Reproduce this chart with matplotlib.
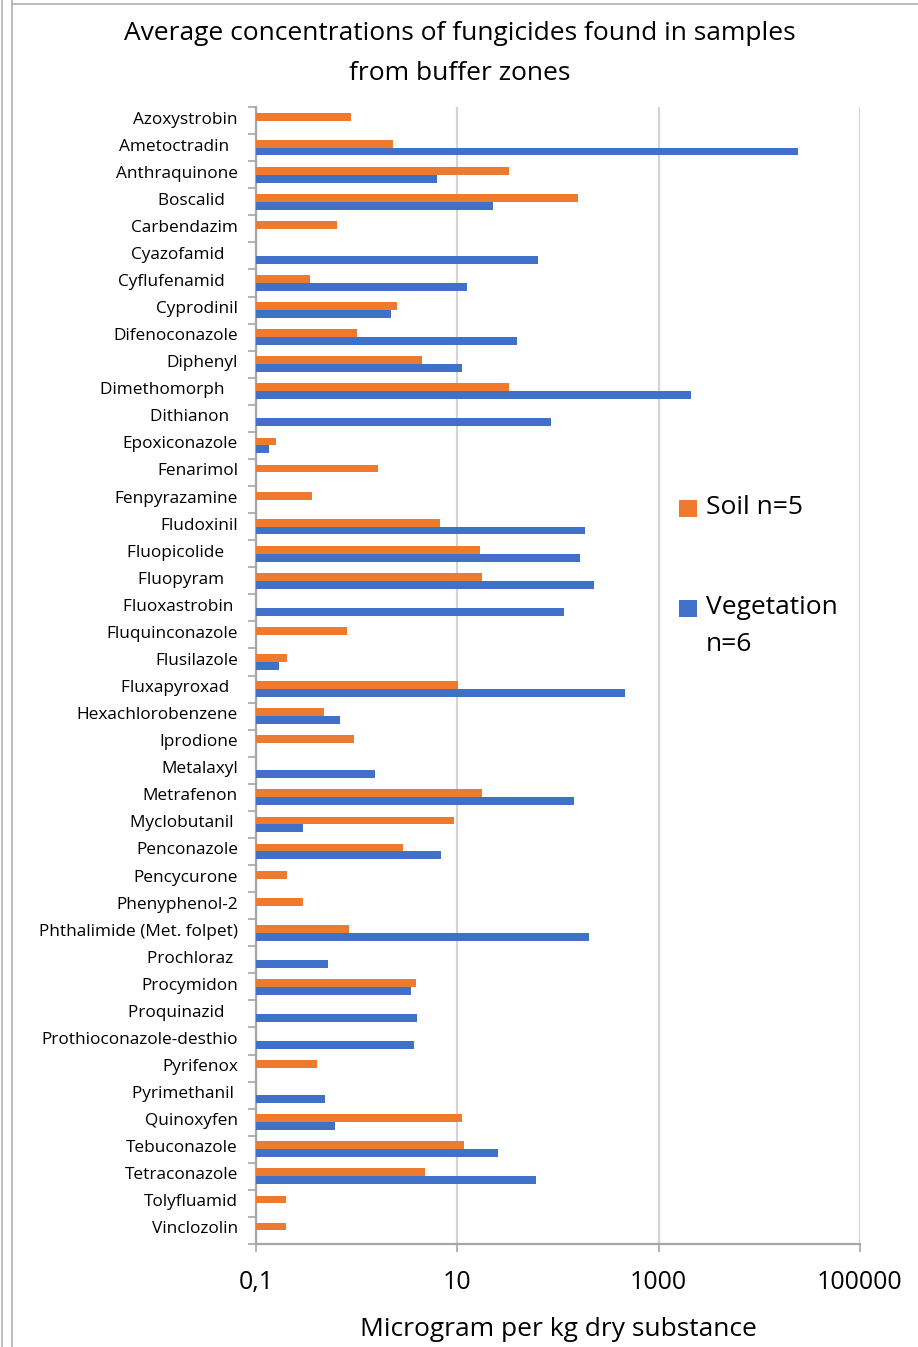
import numpy as np
import matplotlib
matplotlib.use("Agg")
import matplotlib.pyplot as plt
from matplotlib.lines import Line2D
from matplotlib.patches import Rectangle
from matplotlib.transforms import ScaledTranslation

# Fungicide names (trailing spaces kept as in the source labels)
compounds = [
    "Azoxystrobin", "Ametoctradin  ", "Anthraquinone", "Boscalid   ", "Carbendazim",
    "Cyazofamid   ", "Cyflufenamid   ", "Cyprodinil", "Difenoconazole", "Diphenyl",
    "Dimethomorph   ", "Dithianon  ", "Epoxiconazole", "Fenarimol", "Fenpyrazamine",
    "Fludoxinil", "Fluopicolide   ", "Fluopyram   ", "Fluoxastrobin ", "Fluquinconazole",
    "Flusilazole", "Fluxapyroxad  ", "Hexachlorobenzene", "Iprodione", "Metalaxyl",
    "Metrafenon", "Myclobutanil ", "Penconazole", "Pencycurone", "Phenyphenol-2",
    "Phthalimide (Met. folpet)", "Prochloraz ", "Procymidon", "Proquinazid   ",
    "Prothioconazole-desthio", "Pyrifenox", "Pyrimethanil ", "Quinoxyfen", "Tebuconazole",
    "Tetraconazole", "Tolyfluamid", "Vinclozolin",
]

# Average concentrations, microgram per kg dry substance (nan = not found)
nan = np.nan
soil = [
    0.87, 2.28, 32.5, 157, 0.64,
    nan, 0.34, 2.5, 1.0, 4.5,
    32.5, nan, 0.158, 1.63, 0.36,
    6.7, 16.8, 17.6, nan, 0.80,
    0.203, 10.2, 0.47, 0.94, nan,
    17.6, 9.3, 2.9, 0.203, 0.29,
    0.84, nan, 3.9, nan,
    nan, 0.40, nan, 11.1, 11.6,
    4.8, 0.2, 0.2,
]
vegetation = [
    nan, 24300, 6.27, 22.5, nan,
    63, 12.5, 2.18, 39, 11.1,
    2100, 85, 0.135, nan, nan,
    185, 165, 228, 115, nan,
    0.169, 463, 0.68, nan, 1.52,
    144, 0.29, 6.9, nan, nan,
    203, 0.52, 3.47, 3.97,
    3.7, nan, 0.48, 0.61, 25.4,
    60, nan, nan,
]

x_ticks = [0.1, 10, 1000, 100000]
x_tick_labels = ["0,1", "10", "1000", "100000"]

ORANGE = "#EE7A30"
BLUE = "#4170C8"
XMIN, XMAX = 0.1, 100000

plt.rcParams["font.family"] = ["Open Sans", "DejaVu Sans"]

W, H = 918, 1347
fig = plt.figure(figsize=(W / 100, H / 100), dpi=100)

ax = fig.add_axes([256 / W, 1 - 1244 / H, (860 - 256) / W, (1244 - 107) / H])

n = len(compounds)
y = np.arange(n)
soil = np.array(soil, dtype=float)
vegetation = np.array(vegetation, dtype=float)
bh = 0.29

ms = ~np.isnan(soil)
mv = ~np.isnan(vegetation)
ax.barh(y[ms] - bh / 2, soil[ms] - XMIN, left=XMIN, height=bh, color=ORANGE, zorder=3)
ax.barh(y[mv] + bh / 2, vegetation[mv] - XMIN, left=XMIN, height=bh, color=BLUE, zorder=3)

ax.set_xscale("log")
ax.set_xlim(XMIN, XMAX)
ax.set_ylim(n - 0.5, -0.5)

ax.set_xticks(x_ticks)
ax.set_xticklabels(x_tick_labels)
ax.xaxis.set_minor_locator(matplotlib.ticker.NullLocator())
ax.tick_params(axis="x", which="major", length=6, width=1.2, color="#A6A6A6",
               pad=13, labelsize=18)
ax.grid(axis="x", which="major", color="#D4D4D4", linewidth=1.6, zorder=0)

ax.set_yticks(y)
ax.set_yticklabels(compounds)
ax.set_yticks(np.arange(n + 1) - 0.5, minor=True)
ax.tick_params(axis="y", which="major", length=0, pad=13, labelsize=12.4)
ax.tick_params(axis="y", which="minor", length=6, width=1.2, color="#A6A6A6")
lift = ScaledTranslation(0, 3 / 100, fig.dpi_scale_trans)
for lab in ax.get_yticklabels():
    lab.set_transform(lab.get_transform() + lift)

for side in ("top", "right"):
    ax.spines[side].set_visible(False)
for side in ("left", "bottom"):
    ax.spines[side].set_color("#A6A6A6")
    ax.spines[side].set_linewidth(1.6)

# Title and axis label
fig.text(460 / W, 1 - 34 / H, "Average concentrations of fungicides found in samples",
         ha="center", va="center", fontsize=19)
fig.text(460 / W, 1 - 73 / H, "from buffer zones", ha="center", va="center", fontsize=19)
fig.text(558 / W, 1 - 1329 / H, "Microgram per kg dry substance",
         ha="center", va="center", fontsize=19)

# Legend: colour keys with their series names
def key(y_top, color):
    fig.add_artist(Rectangle((679 / W, 1 - (y_top + 17) / H), 18 / W, 17 / H,
                             transform=fig.transFigure, facecolor=color, edgecolor="none"))

key(500, ORANGE)
fig.text(706 / W, 1 - 508 / H, "Soil n=5", ha="left", va="center", fontsize=19)
key(600, BLUE)
fig.text(706 / W, 1 - 607 / H, "Vegetation", ha="left", va="center", fontsize=19)
fig.text(706 / W, 1 - 645 / H, "n=6", ha="left", va="center", fontsize=19)

# Frame lines around the chart area
for x0 in (2, 12):
    fig.add_artist(Line2D([x0 / W, x0 / W], [0, 1], color="#B0B0B0", lw=1.2))
fig.add_artist(Line2D([12 / W, 1], [1 - 4 / H, 1 - 4 / H], color="#B0B0B0", lw=1.2))

fig.savefig("out.png", dpi=100)
